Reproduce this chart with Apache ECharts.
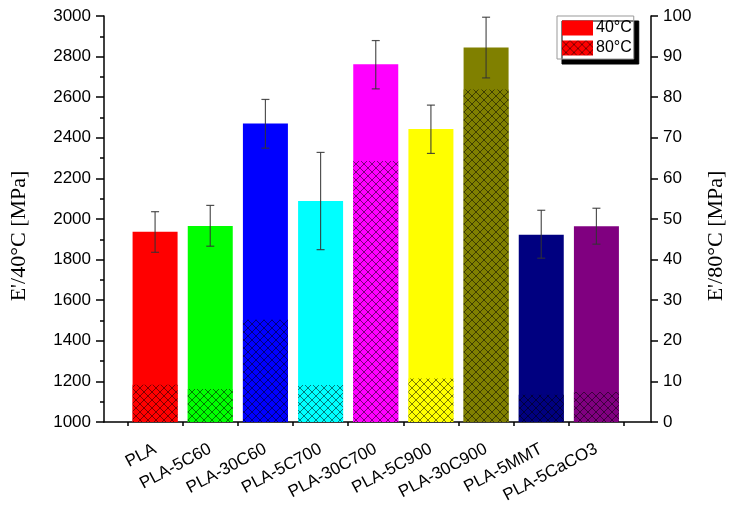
<!DOCTYPE html>
<html>
<head>
<meta charset="utf-8">
<script src="https://cdn.jsdelivr.net/npm/echarts@6/dist/echarts.min.js"></script>
<style>html,body{margin:0;padding:0;background:#fff;}#chart{width:735px;height:507px;}</style>
</head>
<body>
<div id="chart"></div>
<script>
const categories = ['PLA','PLA-5C60','PLA-30C60','PLA-5C700','PLA-30C700','PLA-5C900','PLA-30C900','PLA-5MMT','PLA-5CaCO3'];
const e40 = [1937, 1966, 2471, 2089, 2762, 2443, 2845, 1923, 1964];
const errLow = [1836, 1866, 2349, 1849, 2641, 2323, 2695, 1807, 1876];
const errHigh = [2036, 2067, 2589, 2328, 2879, 2561, 2994, 2043, 2053];
const e80 = [9.2, 8.1, 25.2, 9.1, 64.3, 10.7, 81.9, 6.7, 7.4];
const barColors = ['#ff0000','#00ff00','#0000ff','#00ffff','#ff00ff','#ffff00','#808000','#000080','#800080'];
const leftTicks = {min: 1000, max: 3000, interval: 200};
const rightTicks = {min: 0, max: 100, interval: 10};

function makeHatch(color) {
  const s = 8;
  const c = document.createElement('canvas');
  c.width = s; c.height = s;
  const ctx = c.getContext('2d');
  ctx.fillStyle = color;
  ctx.fillRect(0, 0, s, s);
  ctx.strokeStyle = 'rgba(0,0,0,0.65)';
  ctx.lineWidth = 0.8;
  ctx.beginPath();
  ctx.moveTo(0, 0); ctx.lineTo(s, s);
  ctx.moveTo(0, s); ctx.lineTo(s, 0);
  ctx.stroke();
  return {image: c, repeat: 'repeat'};
}

const chart = echarts.init(document.getElementById('chart'), null, {renderer: 'canvas'});
const font = 'Liberation Sans';
const serif = 'Liberation Serif';
const gridTop = 16, gridBottom = 85;

const option = {
  animation: false,
  backgroundColor: '#ffffff',
  grid: [
    {left: 127.5, right: 111, top: gridTop, bottom: gridBottom},
    {left: 99.5, right: 83, top: gridTop, bottom: gridBottom}
  ],
  legend: {
    orient: 'vertical',
    left: 557, top: 16,
    data: ['40°C', '80°C'],
    icon: 'rect',
    itemWidth: 31, itemHeight: 15, itemGap: 4,
    padding: [4, 2, 3, 5],
    backgroundColor: '#ffffff',
    borderColor: '#999',
    borderWidth: 1,
    borderRadius: 0,
    shadowColor: '#000',
    shadowBlur: 0,
    shadowOffsetX: 5,
    shadowOffsetY: 5,
    textStyle: {fontFamily: font, fontSize: 16, color: '#000', padding: [0, 0, 0, -2]}
  },
  xAxis: [
    {
      type: 'category', gridIndex: 0, data: categories,
      axisLine: {show: false},
      axisTick: {show: true, length: 4, lineStyle: {color: '#000', width: 1.5}},
      axisLabel: {interval: 0, rotate: 28, fontFamily: font, fontSize: 17, color: '#000', margin: 26}
    },
    {
      type: 'category', gridIndex: 1, data: [''],
      axisLine: {show: true, lineStyle: {color: '#000', width: 1.5}},
      axisTick: {show: false}, axisLabel: {show: false}
    }
  ],
  yAxis: [
    {type: 'value', gridIndex: 0, min: leftTicks.min, max: leftTicks.max, interval: leftTicks.interval, show: false, splitLine: {show: false}},
    {type: 'value', gridIndex: 0, min: rightTicks.min, max: rightTicks.max, interval: rightTicks.interval, show: false, splitLine: {show: false}},
    {
      type: 'value', gridIndex: 1, position: 'left',
      min: leftTicks.min, max: leftTicks.max, interval: leftTicks.interval,
      name: "E'/40°C [MPa]", nameLocation: 'middle', nameGap: 74,
      nameTextStyle: {fontFamily: serif, fontSize: 22, color: '#000', padding: [0, 34, 0, 0]},
      axisLine: {show: true, lineStyle: {color: '#000', width: 1.5}},
      axisTick: {show: true, length: 8, lineStyle: {color: '#000', width: 1.5}},
      minorTick: {show: true, splitNumber: 2, length: 4, lineStyle: {color: '#000', width: 1.5}},
      axisLabel: {fontFamily: font, fontSize: 17, color: '#000', margin: 13, formatter: v => String(v)},
      splitLine: {show: false}
    },
    {
      type: 'value', gridIndex: 1, position: 'right',
      min: rightTicks.min, max: rightTicks.max, interval: rightTicks.interval,
      name: "E'/80°C [MPa]", nameLocation: 'middle', nameGap: 54,
      nameTextStyle: {fontFamily: serif, fontSize: 22, color: '#000', padding: [0, 34, 0, 0]},
      axisLine: {show: true, lineStyle: {color: '#000', width: 1.5}},
      axisTick: {show: true, length: 7, lineStyle: {color: '#000', width: 1.5}},
      axisLabel: {fontFamily: font, fontSize: 17, color: '#000', margin: 12, formatter: v => String(v)},
      splitLine: {show: false}
    }
  ],
  series: [
    {
      name: '40°C', type: 'bar', xAxisIndex: 0, yAxisIndex: 0,
      barWidth: 45, barGap: '-100%',
      itemStyle: {color: '#ff0000'},
      data: e40.map((v, i) => ({value: v, itemStyle: {color: barColors[i]}})),
      z: 2
    },
    {
      name: '80°C', type: 'bar', xAxisIndex: 0, yAxisIndex: 1,
      barWidth: 45, barGap: '-100%',
      itemStyle: {color: makeHatch('#ff0000')},
      data: e80.map((v, i) => ({value: v, itemStyle: {color: makeHatch(barColors[i])}})),
      z: 3
    },
    {
      name: 'err', type: 'custom', xAxisIndex: 0, yAxisIndex: 0,
      data: categories.map((c, i) => [i, errLow[i], errHigh[i]]),
      encode: {x: 0, y: [1, 2]},
      z: 5,
      renderItem: function (params, api) {
        const x = api.value(0);
        const lo = api.coord([x, api.value(1)]);
        const hi = api.coord([x, api.value(2)]);
        const hw = 4;
        const style = {stroke: 'rgba(50,50,50,0.85)', lineWidth: 1.2};
        return {
          type: 'group',
          children: [
            {type: 'line', shape: {x1: lo[0], y1: lo[1], x2: hi[0], y2: hi[1]}, style: style},
            {type: 'line', shape: {x1: hi[0] - hw, y1: hi[1], x2: hi[0] + hw, y2: hi[1]}, style: style},
            {type: 'line', shape: {x1: lo[0] - hw, y1: lo[1], x2: lo[0] + hw, y2: lo[1]}, style: style}
          ]
        };
      }
    }
  ]
};
chart.setOption(option);
</script>
</body>
</html>
